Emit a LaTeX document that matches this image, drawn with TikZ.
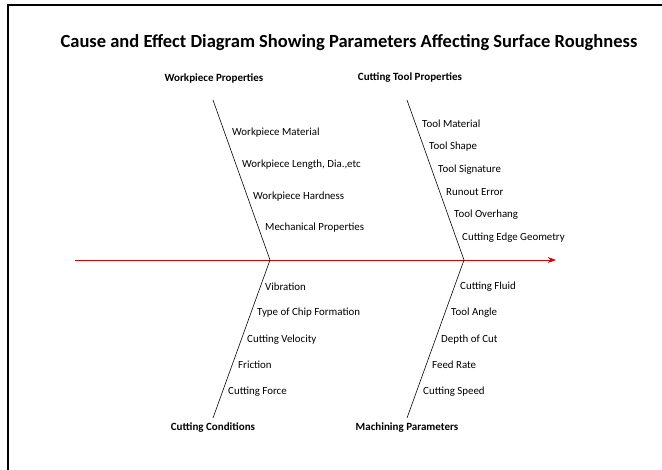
\documentclass[tikz,border=0pt]{standalone}
\usepackage{fontspec}
\setmainfont{Carlito}
\usetikzlibrary{arrows.meta}

\begin{document}
\begin{tikzpicture}[
  x=0.03cm, y=-0.03cm,
  cause/.style={anchor=west, inner sep=0pt, font=\fontsize{9.3}{11}\selectfont},
  head/.style={inner sep=0pt, font=\fontsize{9.4}{11}\selectfont\bfseries},
  bone/.style={draw=black, line width=0.5pt},
  spine/.style={draw=red!85!black, line width=0.7pt, -{Stealth[length=7pt, width=5pt]}}
]
  \useasboundingbox (0,0) rectangle (662,470);
  % frame
  \coordinate (fl) at (8,470);
  \coordinate (fc) at (8,5);
  \coordinate (fr) at (662,5);
  \draw[line width=1.4pt] (fl) -- (fc) -- (fr);

  \node[inner sep=0pt, font=\fontsize{15.8}{18}\selectfont\bfseries] (title) at (349,43)
    {Cause and Effect Diagram Showing Parameters Affecting Surface Roughness};

  % spine
  \coordinate (tail) at (75,260);
  \coordinate (head) at (556,260);
  \draw[spine] (tail) -- (head);

  % left bones
  \begin{scope}
    \coordinate (j1) at (270,260);
    \coordinate (wtop) at (213,100);
    \coordinate (cbot) at (213,418);
    \draw[bone] (wtop) -- (j1) -- (cbot);
    \node[head] (wp) at (214,78) {Workpiece Properties};
    \node[head] (cc) at (213,428) {Cutting Conditions};

    \node[cause] (w1) at (232,133) {Workpiece Material};
    \node[cause] (w2) at (242,165) {Workpiece Length, Dia.,etc};
    \node[cause] (w3) at (253,197) {Workpiece Hardness};
    \node[cause] (w4) at (265,228) {Mechanical Properties};

    \node[cause] (c1) at (265,287) {Vibration};
    \node[cause] (c2) at (257,313) {Type of Chip Formation};
    \node[cause] (c3) at (247,340) {Cutting Velocity};
    \node[cause] (c4) at (238,365) {Friction};
    \node[cause] (c5) at (228,392) {Cutting Force};
  \end{scope}

  % right bones
  \begin{scope}
    \coordinate (j2) at (464,260);
    \coordinate (ttop) at (407,100);
    \coordinate (mbot) at (407,418);
    \draw[bone] (ttop) -- (j2) -- (mbot);
    \node[head] (tp) at (410,78) {Cutting Tool Properties};
    \node[head] (mp) at (407,428) {Machining Parameters};

    \node[cause] (t1) at (422,124) {Tool Material};
    \node[cause] (t2) at (429,147) {Tool Shape};
    \node[cause] (t3) at (438,170) {Tool Signature};
    \node[cause] (t4) at (446,192) {Runout Error};
    \node[cause] (t5) at (454,215) {Tool Overhang};
    \node[cause] (t6) at (462,238) {Cutting Edge Geometry};

    \node[cause] (m1) at (460,287) {Cutting Fluid};
    \node[cause] (m2) at (451,313) {Tool Angle};
    \node[cause] (m3) at (441,340) {Depth of Cut};
    \node[cause] (m4) at (432,365) {Feed Rate};
    \node[cause] (m5) at (423,392) {Cutting Speed};
  \end{scope}
\end{tikzpicture}
\end{document}
